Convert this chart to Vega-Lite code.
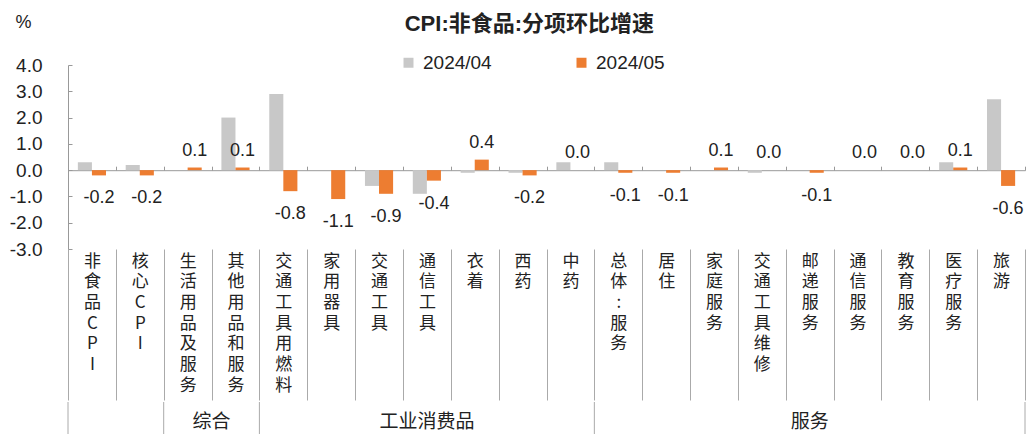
{
  "$schema": "https://vega.github.io/schema/vega-lite/v6.json",
  "background": "white",
  "padding": {"left": 9, "top": 13, "right": 5, "bottom": 0},
  "config": {
    "font": "Liberation Sans, Noto Sans CJK SC",
    "view": {"stroke": null},
    "concat": {"spacing": 0},
    "axisY": {"labelOverlap": false, "labelSeparation": 0},
    "axisQuantitative": {"labelOverlap": false},
    "locale": {"number": {"decimal": ".", "thousands": ",", "grouping": [3], "currency": ["", ""], "minus": "-"}}
  },
  "title": {
    "text": "CPI:非食品:分项环比增速",
    "fontSize": 22,
    "fontWeight": "bold",
    "color": "#222222",
    "anchor": "middle",
    "offset": -23,
    "dx": 12
  },
  "datasets": {
    "bars": [
      {"cat": "非食品CPI", "series": "2024/04", "value": 0.3},
      {"cat": "非食品CPI", "series": "2024/05", "value": -0.2},
      {"cat": "核心CPI", "series": "2024/04", "value": 0.2},
      {"cat": "核心CPI", "series": "2024/05", "value": -0.2},
      {"cat": "生活用品及服务", "series": "2024/04", "value": 0.0},
      {"cat": "生活用品及服务", "series": "2024/05", "value": 0.1},
      {"cat": "其他用品和服务", "series": "2024/04", "value": 2.0},
      {"cat": "其他用品和服务", "series": "2024/05", "value": 0.1},
      {"cat": "交通工具用燃料", "series": "2024/04", "value": 2.9},
      {"cat": "交通工具用燃料", "series": "2024/05", "value": -0.8},
      {"cat": "家用器具", "series": "2024/04", "value": 0.0},
      {"cat": "家用器具", "series": "2024/05", "value": -1.1},
      {"cat": "交通工具", "series": "2024/04", "value": -0.6},
      {"cat": "交通工具", "series": "2024/05", "value": -0.9},
      {"cat": "通信工具", "series": "2024/04", "value": -0.9},
      {"cat": "通信工具", "series": "2024/05", "value": -0.4},
      {"cat": "衣着", "series": "2024/04", "value": -0.1},
      {"cat": "衣着", "series": "2024/05", "value": 0.4},
      {"cat": "西药", "series": "2024/04", "value": -0.1},
      {"cat": "西药", "series": "2024/05", "value": -0.2},
      {"cat": "中药", "series": "2024/04", "value": 0.3},
      {"cat": "中药", "series": "2024/05", "value": 0.0},
      {"cat": "总体:服务", "series": "2024/04", "value": 0.3},
      {"cat": "总体:服务", "series": "2024/05", "value": -0.1},
      {"cat": "居住", "series": "2024/04", "value": 0.0},
      {"cat": "居住", "series": "2024/05", "value": -0.1},
      {"cat": "家庭服务", "series": "2024/04", "value": 0.0},
      {"cat": "家庭服务", "series": "2024/05", "value": 0.1},
      {"cat": "交通工具维修", "series": "2024/04", "value": -0.1},
      {"cat": "交通工具维修", "series": "2024/05", "value": 0.0},
      {"cat": "邮递服务", "series": "2024/04", "value": 0.0},
      {"cat": "邮递服务", "series": "2024/05", "value": -0.1},
      {"cat": "通信服务", "series": "2024/04", "value": 0.0},
      {"cat": "通信服务", "series": "2024/05", "value": 0.0},
      {"cat": "教育服务", "series": "2024/04", "value": 0.0},
      {"cat": "教育服务", "series": "2024/05", "value": 0.0},
      {"cat": "医疗服务", "series": "2024/04", "value": 0.3},
      {"cat": "医疗服务", "series": "2024/05", "value": 0.1},
      {"cat": "旅游", "series": "2024/04", "value": 2.7},
      {"cat": "旅游", "series": "2024/05", "value": -0.6}
    ],
    "groupRules": [
      {"cat": "非食品CPI"},
      {"cat": "生活用品及服务"},
      {"cat": "交通工具用燃料"},
      {"cat": "总体:服务"}
    ],
    "groupEnd": [
      {"cat": "旅游"}
    ],
    "groupLabelEdge": [
      {"group": "综合", "cat": "其他用品和服务"}
    ],
    "groupLabelMid": [
      {"group": "工业消费品", "cat": "通信工具"},
      {"group": "服务", "cat": "邮递服务"}
    ]
  },
  "resolve": {"scale": {"x": "shared"}},
  "vconcat": [
    {
      "width": 957,
      "height": 184,
      "data": {"name": "bars"},
      "resolve": {"axis": {"x": "independent"}},
      "layer": [
        {
          "mark": {"type": "bar"},
          "encoding": {
            "x": {
              "field": "cat",
              "type": "nominal",
              "sort": null,
              "scale": {
                "domain": ["非食品CPI", "核心CPI", "生活用品及服务", "其他用品和服务", "交通工具用燃料", "家用器具", "交通工具", "通信工具", "衣着", "西药", "中药", "总体:服务", "居住", "家庭服务", "交通工具维修", "邮递服务", "通信服务", "教育服务", "医疗服务", "旅游"],
                "paddingInner": 0,
                "paddingOuter": 0
              },
              "axis": {
                "orient": "bottom",
                "title": null,
                "domain": false,
                "ticks": true,
                "tickBand": "extent",
                "tickSize": 151,
                "tickColor": "#aaaaaa",
                "tickWidth": 1,
                "labelAngle": 0,
                "labelExpr": "split(datum.label, '')",
                "labelFont": "Noto Sans CJK SC",
                "labelFontSize": 17,
                "labelLineHeight": 20.7,
                "labelBaseline": "top",
                "labelAlign": "center",
                "labelPadding": -147,
                "labelColor": "#222222",
                "labelOverlap": false
              }
            },
            "xOffset": {
              "field": "series",
              "type": "nominal",
              "scale": {"domain": ["2024/04", "2024/05"], "paddingInner": 0, "paddingOuter": 0.7}
            },
            "y": {
              "field": "value",
              "type": "quantitative",
              "scale": {"domain": [-3, 4], "nice": false, "zero": false},
              "axis": {
                "values": [-3, -2, -1, 0, 1, 2, 3, 4],
                "format": ".1f",
                "grid": false,
                "domainColor": "#999999",
                "tickColor": "#999999",
                "tickSize": -4,
                "labelFontSize": 19,
                "labelColor": "#222222",
                "labelPadding": 30,
                "labelOverlap": false,
                "labelBound": false,
                "title": "%",
                "titleAngle": 0,
                "titleAlign": "left",
                "titleBaseline": "middle",
                "titleX": -53,
                "titleY": -43,
                "titleFontSize": 18,
                "titleFontWeight": "normal",
                "titleColor": "#222222"
              }
            },
            "color": {
              "field": "series",
              "type": "nominal",
              "scale": {"domain": ["2024/04", "2024/05"], "range": ["#C8C8C8", "#ED7D31"]},
              "legend": {
                "orient": "none",
                "legendX": 331,
                "legendY": -12,
                "direction": "horizontal",
                "title": null,
                "symbolType": "square",
                "symbolSize": 100,
                "symbolStrokeWidth": 0,
                "labelFontSize": 19,
                "labelColor": "#222222",
                "labelOffset": 5,
                "columnPadding": 80
              }
            }
          }
        },
        {
          "transform": [{"filter": "datum.series == '2024/05' && datum.value < 0"}],
          "mark": {"type": "text", "baseline": "middle", "dy": 23, "fontSize": 18, "color": "#222222"},
          "encoding": {
            "x": {
              "field": "cat",
              "type": "nominal",
              "sort": null,
              "axis": {
                "orient": "top",
                "offset": -105.2,
                "title": null,
                "labels": false,
                "domain": true,
                "domainColor": "#999999",
                "ticks": true,
                "tickBand": "extent",
                "tickSize": 4,
                "tickColor": "#999999"
              }
            },
            "xOffset": {"field": "series", "type": "nominal"},
            "y": {"field": "value", "type": "quantitative", "axis": {"labelOverlap": false, "values": [-3, -2, -1, 0, 1, 2, 3, 4]}},
            "text": {"field": "value", "type": "quantitative", "format": ".1f"}
          }
        },
        {
          "transform": [{"filter": "datum.series == '2024/05' && datum.value >= 0"}],
          "mark": {"type": "text", "baseline": "middle", "dy": -17, "fontSize": 18, "color": "#222222"},
          "encoding": {
            "x": {"field": "cat", "type": "nominal", "sort": null, "axis": null},
            "xOffset": {"field": "series", "type": "nominal"},
            "y": {"field": "value", "type": "quantitative", "axis": {"labelOverlap": false, "values": [-3, -2, -1, 0, 1, 2, 3, 4]}},
            "text": {"field": "value", "type": "quantitative", "format": ".1f"}
          }
        }
      ]
    },
    {
      "width": 957,
      "height": 34,
      "layer": [
        {
          "data": {"name": "groupRules"},
          "mark": {"type": "rule", "color": "#aaaaaa", "strokeWidth": 1},
          "encoding": {
            "x": {"field": "cat", "type": "nominal", "bandPosition": 0, "axis": null}
          }
        },
        {
          "data": {"name": "groupEnd"},
          "mark": {"type": "rule", "color": "#aaaaaa", "strokeWidth": 1},
          "encoding": {
            "x": {"field": "cat", "type": "nominal", "bandPosition": 1, "axis": null}
          }
        },
        {
          "data": {"name": "groupLabelEdge"},
          "mark": {"type": "text", "fontSize": 19, "font": "Noto Sans CJK SC", "color": "#222222", "baseline": "middle", "dy": 3},
          "encoding": {
            "x": {"field": "cat", "type": "nominal", "bandPosition": 0, "axis": null},
            "text": {"field": "group"}
          }
        },
        {
          "data": {"name": "groupLabelMid"},
          "mark": {"type": "text", "fontSize": 19, "font": "Noto Sans CJK SC", "color": "#222222", "baseline": "middle", "dy": 3},
          "encoding": {
            "x": {"field": "cat", "type": "nominal", "bandPosition": 0.5, "axis": null},
            "text": {"field": "group"}
          }
        }
      ]
    }
  ]
}
